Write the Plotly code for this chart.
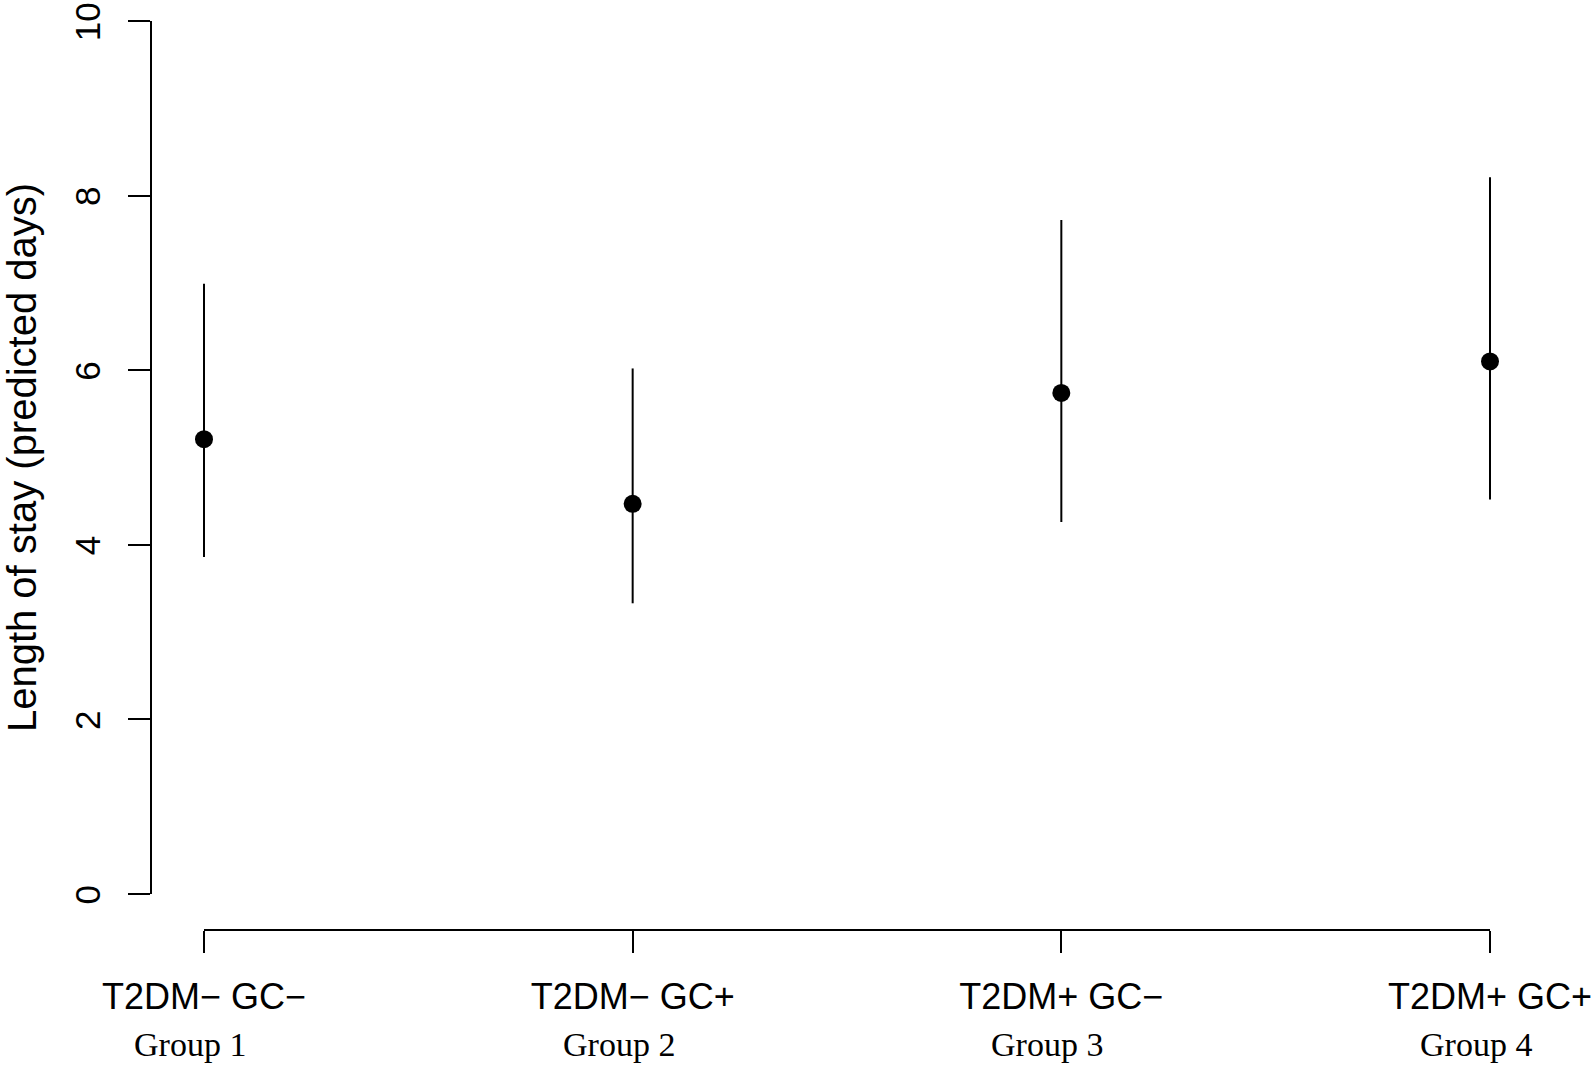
import plotly.graph_objects as go

# ---- data ----
conditions = ["T2DM\u2212 GC\u2212", "T2DM\u2212 GC+", "T2DM+ GC\u2212", "T2DM+ GC+"]
groups = ["Group 1", "Group 2", "Group 3", "Group 4"]
positions = [1, 2, 3, 4]
estimate = [5.21, 4.47, 5.74, 6.10]
lower = [3.86, 3.33, 4.26, 4.52]
upper = [6.99, 6.02, 7.72, 8.21]
y_ticks = [0, 2, 4, 6, 8, 10]

err_plus = [u - e for u, e in zip(upper, estimate)]
err_minus = [e - l for e, l in zip(estimate, lower)]

W, H = 1594, 1065
ml, mr, mt, mb = 152, 34, 21, 135
plot_h = H - mt - mb
ydom0 = 36 / plot_h

fig = go.Figure()
fig.add_trace(go.Scatter(
    x=positions, y=estimate, mode="markers",
    marker=dict(color="black", size=18),
    error_y=dict(type="data", symmetric=False, array=err_plus, arrayminus=err_minus,
                 color="black", thickness=2, width=0),
    showlegend=False, hoverinfo="skip",
))

# x-axis line spanning first to last category (R style)
fig.add_shape(type="line", xref="x", yref="paper",
              x0=min(positions), x1=max(positions), y0=0, y1=0,
              line=dict(color="black", width=2))

for p, g in zip(positions, groups):
    fig.add_annotation(x=p, xref="x", y=-(1044 - (H - mb)) / plot_h, yref="paper",
                       text=g, showarrow=False, xshift=-14, yanchor="middle",
                       font=dict(family="Liberation Serif", size=34, color="black"))

fig.update_layout(
    width=W, height=H,
    margin=dict(l=ml, r=mr, t=mt, b=mb),
    paper_bgcolor="white", plot_bgcolor="white",
    xaxis=dict(
        range=[0.8787, 4.1633], anchor="free", position=0,
        tickvals=positions, ticktext=conditions,
        ticks="outside", ticklen=22, tickwidth=2, tickcolor="black",
        showline=False, showgrid=False, zeroline=False,
        tickfont=dict(family="Liberation Sans", size=36, color="black"),
        ticklabelstandoff=13, ticklabeloverflow="allow", automargin=False,
    ),
    yaxis=dict(
        domain=[ydom0, 1], range=[0, 10],
        tickvals=y_ticks, ticktext=[str(v) for v in y_ticks], tickangle=-90,
        ticks="outside", ticklen=22, tickwidth=2, tickcolor="black",
        showline=True, linecolor="black", linewidth=2,
        showgrid=False, zeroline=False,
        tickfont=dict(family="Liberation Sans", size=35, color="black"),
        ticklabelstandoff=14, ticklabelshift=6, ticklabeloverflow="allow",
        title=dict(text="Length of stay (predicted days)", standoff=24,
                   font=dict(family="Liberation Sans", size=40, color="black")),
        automargin=False,
    ),
)

fig.write_html("out.html", config={"displayModeBar": False},
               post_script="document.body.style.margin='0';document.body.style.overflow='hidden';")
